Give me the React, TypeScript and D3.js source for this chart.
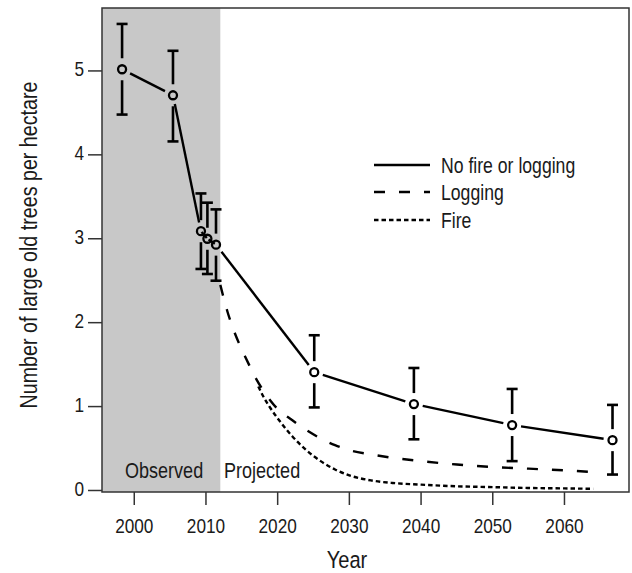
import React from "react";
import * as d3 from "d3";

const obsYears = [1998.3, 2005.4, 2009.3, 2010.2, 2011.4, 2025.1, 2039.0, 2052.7, 2066.7];
const obsMean = [5.02, 4.71, 3.09, 3.0, 2.93, 1.41, 1.03, 0.78, 0.6];
const obsLow = [4.48, 4.16, 2.64, 2.58, 2.5, 0.99, 0.61, 0.35, 0.19];
const obsHigh = [5.56, 5.24, 3.54, 3.43, 3.35, 1.85, 1.46, 1.21, 1.02];

const loggingYears = [2012, 2013, 2014, 2015, 2016, 2017, 2018, 2019, 2020, 2022, 2024, 2026, 2028, 2030, 2033, 2036, 2040, 2045, 2050, 2055, 2060, 2064];
const logging = [2.45, 2.13, 1.88, 1.68, 1.5, 1.33, 1.19, 1.07, 0.97, 0.84, 0.72, 0.62, 0.54, 0.48, 0.43, 0.39, 0.35, 0.31, 0.28, 0.26, 0.24, 0.22];
const fireYears = [2017.3, 2018, 2019, 2020, 2022, 2024, 2026, 2028, 2030, 2033, 2036, 2040, 2045, 2050, 2055, 2060, 2064];
const fire = [1.24, 1.12, 0.98, 0.86, 0.65, 0.48, 0.35, 0.25, 0.18, 0.12, 0.09, 0.07, 0.05, 0.04, 0.03, 0.025, 0.02];

const xTicks = [2000, 2010, 2020, 2030, 2040, 2050, 2060];
const yTicks = [0, 1, 2, 3, 4, 5];
const legendLabels = ["No fire or logging", "Logging", "Fire"];
const observedEnd = 2012;

const W = 632, H = 573;
const L = 102, R = 629, T = 8, B = 492;
const FONT = "'Liberation Sans', Arial, sans-serif";
const TXT = "#1a1a1a";
const NARROW = 0.82;
const LOG_DASH = "11,14";
const FIRE_DASH = "4.5,3";

function Txt(props: { x: number; y: number; size: number; anchor?: string; rotate?: number; children: React.ReactNode }) {
  const { x, y, size, anchor, rotate, children } = props;
  const tr = `translate(${x},${y})${rotate ? ` rotate(${rotate})` : ""} scale(${NARROW},1)`;
  return (
    <text transform={tr} textAnchor={anchor || "start"} fontSize={size} fill={TXT}>
      {children}
    </text>
  );
}

export default function App() {
  const x = d3.scaleLinear().domain([1995.5, 2069]).range([L, R]);
  const y = d3.scaleLinear().domain([-0.018, 5.75]).range([B, T]);

  const pts = obsYears.map((yr, i) => [x(yr), y(obsMean[i])] as [number, number]);
  const gap = 9;
  const segs = pts.slice(1).map((p, i) => {
    const a = pts[i];
    const dx = p[0] - a[0], dy = p[1] - a[1];
    const len = Math.hypot(dx, dy);
    const ux = dx / len, uy = dy / len;
    return [a[0] + ux * gap, a[1] + uy * gap, p[0] - ux * gap, p[1] - uy * gap];
  });

  const mkLine = (yrs: number[]) =>
    d3.line<number>().x((_, i) => x(yrs[i])).y((v) => y(v)).curve(d3.curveMonotoneX);

  const legendX1 = 374, legendX2 = 430, legendTextX = 441;
  const legendY = [165, 192, 220];
  const dashes = [undefined, LOG_DASH, FIRE_DASH];

  return (
    <svg width={W} height={H} style={{ position: "absolute", left: 0, top: 0 }} fontFamily={FONT}>
      <rect x={0} y={0} width={W} height={H} fill="#fff" />
      <rect x={L} y={T} width={x(observedEnd) - L} height={B - T} fill="#c8c8c8" />
      <path d={mkLine(loggingYears)(logging) || ""} fill="none" stroke="#000" strokeWidth={2.4} strokeDasharray={LOG_DASH} />
      <path d={mkLine(fireYears)(fire) || ""} fill="none" stroke="#000" strokeWidth={2.4} strokeDasharray={FIRE_DASH} />
      {segs.map((s, i) => (
        <line key={i} x1={s[0]} y1={s[1]} x2={s[2]} y2={s[3]} stroke="#000" strokeWidth={2.4} />
      ))}
      {obsYears.map((yr, i) => {
        const cx = x(yr), cy = y(obsMean[i]);
        const yh = y(obsHigh[i]), yl = y(obsLow[i]);
        const eg = 11;
        return (
          <g key={i} stroke="#000" strokeWidth={2.6}>
            <line x1={cx} x2={cx} y1={yh} y2={cy - eg} />
            <line x1={cx} x2={cx} y1={cy + eg} y2={yl} />
            <line x1={cx - 5.5} x2={cx + 5.5} y1={yh} y2={yh} />
            <line x1={cx - 5.5} x2={cx + 5.5} y1={yl} y2={yl} />
            <circle cx={cx} cy={cy} r={4} fill="none" strokeWidth={2.3} />
          </g>
        );
      })}
      <rect x={L} y={T} width={R - L} height={B - T} fill="none" stroke="#333" strokeWidth={1.5} />
      {xTicks.map((t) => (
        <g key={t}>
          <line x1={x(t)} x2={x(t)} y1={B} y2={B + 13} stroke="#333" strokeWidth={1.5} />
          <Txt x={x(t)} y={532.5} size={21} anchor="middle">{t}</Txt>
        </g>
      ))}
      {yTicks.map((t) => (
        <g key={t}>
          <line x1={L - 14} x2={L} y1={y(t)} y2={y(t)} stroke="#333" strokeWidth={1.5} />
          <Txt x={84} y={y(t) + 5.5} size={21} anchor="end">{t}</Txt>
        </g>
      ))}
      <Txt x={347} y={568} size={24.5} anchor="middle">Year</Txt>
      <Txt x={37} y={245} size={24} anchor="middle" rotate={-90}>Number of large old trees per hectare</Txt>
      <Txt x={125} y={478} size={22}>Observed</Txt>
      <Txt x={224} y={478} size={22}>Projected</Txt>
      {legendLabels.map((lab, i) => (
        <g key={lab}>
          <line x1={legendX1} x2={legendX2} y1={legendY[i]} y2={legendY[i]} stroke="#000" strokeWidth={2.4} strokeDasharray={dashes[i]} />
          <Txt x={legendTextX} y={legendY[i] + 8} size={21.5}>{lab}</Txt>
        </g>
      ))}
    </svg>
  );
}
